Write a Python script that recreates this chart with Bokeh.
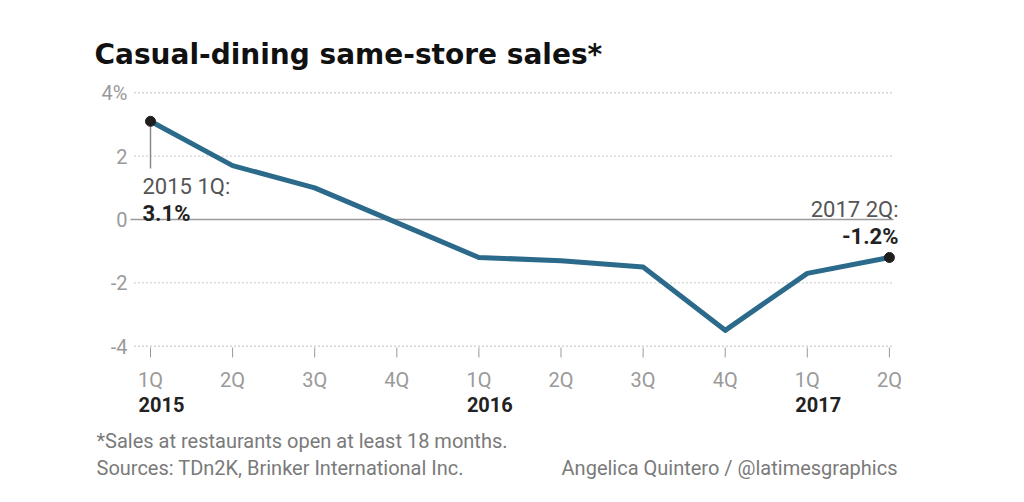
from bokeh.plotting import figure
from bokeh.models import Range1d, ColumnDataSource
from bokeh.core.properties import value
from bokeh.embed import file_html
from bokeh.resources import INLINE

# ---- data ----
quarters = ["1Q", "2Q", "3Q", "4Q", "1Q", "2Q", "3Q", "4Q", "1Q", "2Q"]
years = ["2015", "2016", "2017"]
sales = [3.1, 1.7, 1.0, -0.1, -1.2, -1.3, -1.5, -3.5, -1.7, -1.2]
y_ticks = [-4, -2, 0, 2, 4]
y_tick_labels = ["-4", "-2", "0", "2", "4%"]

title_text = "Casual-dining same-store sales*"
note_text = "*Sales at restaurants open at least 18 months."
source_text = "Sources: TDn2K, Brinker International Inc."
credit_text = "Angelica Quintero / @latimesgraphics"

FONT = "Roboto"
TITLE_FONT = "DejaVu Sans"
W, H = 1008, 486

x = list(range(len(sales)))

# page-pixel helpers -> data coordinates (used only to place texts / decorations)
X0, XS = 150.0, 82.1
Y0, YS = 219.0, 31.67
def px(v):
    return (v - X0) / XS
def py(v):
    return (Y0 - v) / YS

p = figure(width=W, height=H, output_backend="svg", toolbar_location=None,
           x_range=Range1d(px(0), px(W)), y_range=Range1d(py(H), py(0)),
           min_border=0, x_axis_type=None, y_axis_type=None)
p.outline_line_color = None
p.background_fill_color = "white"
p.border_fill_color = "white"
p.grid.visible = False

# dotted gridlines (non-zero ticks) and solid zero line
grid_vals = [t for t in y_ticks if t != 0]
p.segment(x0=[px(134)] * len(grid_vals), y0=grid_vals, x1=[px(893)] * len(grid_vals), y1=grid_vals,
          line_color="#a8a8a8", line_dash="1 3", line_width=1.4)
p.segment(x0=[px(130)], y0=[0], x1=[px(893)], y1=[0], line_color="#9a9a9a", line_width=1.5)

# y tick labels
p.text(x=[px(127)] * len(y_ticks), y=y_ticks, text=y_tick_labels,
       text_align="right", text_baseline="middle", text_font=value(FONT),
       text_font_size="20px", text_color="#9a9a9a")

# x tick marks + labels
p.segment(x0=x, y0=[py(347)] * len(x), x1=x, y1=[py(357)] * len(x),
          line_color="#9a9a9a", line_width=1)
p.text(x=x, y=[py(379)] * len(x), text=quarters, text_align="center",
       text_baseline="middle", text_font=value(FONT), text_font_size="20px",
       text_color="#9a9a9a")

# year labels, left-aligned under each year's 1Q label
year_idx = [i for i, q in enumerate(quarters) if q == "1Q"]
p.text(x=[i + px(138) for i in year_idx], y=[py(404)] * len(years), text=years,
       text_align="left", text_baseline="middle", text_font=value(FONT),
       text_font_style="bold", text_font_size="20px", text_color="#222222")

# annotation stem for first point
p.segment(x0=[x[0]], y0=[sales[0]], x1=[x[0]], y1=[py(168)], line_color="#8a8a8a", line_width=1.5)

# line
src = ColumnDataSource(dict(x=x, y=sales))
p.line("x", "y", source=src, line_color="#2b6a8a", line_width=5, line_join="round")

# end points
p.scatter(x=[x[0], x[-1]], y=[sales[0], sales[-1]], size=10,
          fill_color="#1e1e1e", line_color="#1e1e1e")

def txt(s, xx, yy, align="left", bold=False, color="#555555", size="22px", font=FONT):
    p.text(x=[xx], y=[yy], text=[s], text_align=align, text_baseline="middle",
           text_font=value(font), text_font_size=size,
           text_font_style="bold" if bold else "normal", text_color=color)

# point annotations
txt(f"2015 {quarters[0]}:", px(142), py(186))
txt(f"{sales[0]:.1f}%", px(142), py(212.5), bold=True, color="#222222")
txt(f"2017 {quarters[-1]}:", px(898), py(208.5), align="right")
txt(f"{sales[-1]:.1f}%", px(898), py(235.5), align="right", bold=True, color="#222222")

# title & footer
txt(title_text, px(94), py(54), bold=True, color="#111111", size="28px", font=TITLE_FONT)
txt(note_text, px(96), py(440), color="#7a7a7a", size="20px")
txt(source_text, px(96), py(467), color="#7a7a7a", size="20px")
txt(credit_text, px(897), py(467), align="right", color="#7a7a7a", size="20px")

open("out.html", "w").write(file_html(p, INLINE))
